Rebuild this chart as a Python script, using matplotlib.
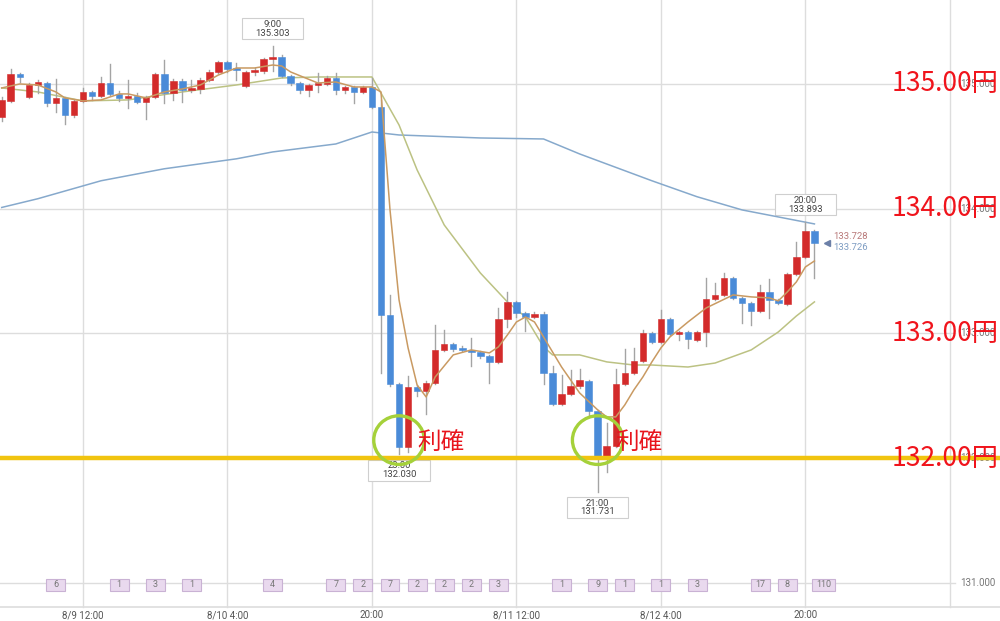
import matplotlib
matplotlib.use('Agg')
import matplotlib.pyplot as plt
from matplotlib.patches import Rectangle, Ellipse
from matplotlib.transforms import blended_transform_factory

plt.rcParams['font.family'] = ['Roboto', 'DejaVu Sans']

# hourly candles, 8/9 3:00 .. 8/12 21:00
opens = [134.735, 134.864, 135.080, 134.896, 134.992, 135.008, 134.848, 134.888, 134.751, 134.864,
         134.936, 134.904, 135.008, 134.920, 134.888, 134.904, 134.856, 134.896, 135.080, 134.928,
         135.024, 134.952, 134.960, 135.032, 135.096, 135.176, 135.120, 134.984, 135.096, 135.104,
         135.200, 135.216, 135.064, 135.008, 134.952, 134.992, 135.000, 135.048, 134.952, 134.976,
         134.936, 134.976, 134.816, 133.148, 132.595, 132.091, 132.571, 132.539, 132.603, 132.868,
         132.916, 132.876, 132.868, 132.852, 132.820, 132.772, 133.116, 133.253, 133.164, 133.132,
         133.156, 132.683, 132.435, 132.515, 132.579, 132.619, 132.379, 132.010, 132.099, 132.595,
         132.683, 132.780, 133.004, 132.932, 133.116, 132.996, 133.012, 132.948, 133.012, 133.277,
         133.309, 133.445, 133.285, 133.245, 133.180, 133.333, 133.269, 133.236, 133.477, 133.613,
         133.822]
highs = [134.896, 135.120, 135.088, 135.008, 135.032, 135.016, 135.040, 134.896, 134.872, 134.968,
         134.944, 135.056, 135.160, 134.944, 135.032, 134.928, 134.904, 135.088, 135.192, 135.040,
         135.040, 135.032, 135.048, 135.112, 135.184, 135.184, 135.168, 135.104, 135.128, 135.208,
         135.303, 135.232, 135.072, 135.016, 135.000, 135.088, 135.064, 135.088, 134.984, 134.984,
         134.984, 135.048, 134.872, 133.309, 132.603, 132.659, 132.587, 132.619, 133.068, 133.028,
         132.924, 132.900, 132.964, 132.860, 132.828, 133.204, 133.333, 133.261, 133.172, 133.172,
         133.172, 132.739, 132.667, 132.707, 132.715, 132.627, 132.387, 132.283, 132.715, 132.876,
         132.884, 133.028, 133.012, 133.188, 133.124, 133.020, 133.020, 133.020, 133.445, 133.405,
         133.485, 133.453, 133.293, 133.253, 133.389, 133.437, 133.277, 133.485, 133.733, 133.893,
         133.830]
lows = [134.703, 134.856, 135.016, 134.888, 134.928, 134.824, 134.776, 134.679, 134.735, 134.856,
        134.872, 134.896, 134.912, 134.864, 134.808, 134.848, 134.719, 134.888, 134.848, 134.872,
        134.856, 134.936, 134.928, 135.024, 135.088, 135.096, 135.032, 134.976, 135.072, 135.088,
        135.104, 135.056, 134.992, 134.928, 134.904, 134.936, 134.992, 134.920, 134.928, 134.848,
        134.928, 134.808, 132.683, 132.579, 132.030, 132.050, 132.499, 132.355, 132.595, 132.860,
        132.860, 132.860, 132.739, 132.804, 132.603, 132.764, 133.052, 133.132, 133.020, 133.124,
        132.595, 132.427, 132.427, 132.507, 132.563, 132.347, 131.731, 131.890, 132.091, 132.587,
        132.675, 132.772, 132.924, 132.924, 132.988, 132.948, 132.884, 132.940, 132.900, 133.269,
        133.301, 133.277, 133.084, 133.068, 133.172, 133.124, 133.236, 133.228, 133.469, 133.605,
        133.445]
closes = [134.872, 135.080, 135.056, 134.992, 135.016, 134.848, 134.888, 134.751, 134.864, 134.936,
          134.904, 135.008, 134.920, 134.888, 134.904, 134.856, 134.896, 135.080, 134.928, 135.024,
          134.952, 134.960, 135.032, 135.096, 135.176, 135.120, 135.112, 135.096, 135.112, 135.200,
          135.216, 135.064, 135.008, 134.952, 134.992, 135.000, 135.048, 134.952, 134.976, 134.936,
          134.976, 134.816, 133.148, 132.595, 132.091, 132.571, 132.539, 132.603, 132.868, 132.916,
          132.876, 132.868, 132.852, 132.820, 132.772, 133.116, 133.253, 133.164, 133.132, 133.156,
          132.683, 132.435, 132.515, 132.579, 132.627, 132.379, 132.010, 132.099, 132.595, 132.683,
          132.780, 133.004, 132.932, 133.116, 132.996, 133.012, 132.956, 133.012, 133.277, 133.309,
          133.445, 133.285, 133.245, 133.180, 133.333, 133.269, 133.245, 133.477, 133.613, 133.822,
          133.728]

short_ma_idx = [0, 2, 4, 6, 7, 9, 11, 13, 14, 16, 18, 20, 22, 24, 26, 28, 30, 31, 32, 35, 37, 39,
                41, 42, 43, 44, 45, 46, 47, 48, 50, 52, 54, 55, 56, 57, 58, 59, 60, 62, 64, 66,
                67, 68, 69, 70, 71, 72, 73, 74, 76, 78, 81, 83, 85, 86, 87, 88, 89, 90]
short_ma = [134.968, 135.000, 134.992, 134.936, 134.888, 134.864, 134.872, 134.920, 134.920,
            134.888, 134.936, 134.960, 134.992, 135.072, 135.128, 135.128, 135.152, 135.144,
            135.096, 135.008, 135.016, 134.976, 134.976, 134.936, 133.990, 133.269, 132.884,
            132.587, 132.491, 132.651, 132.828, 132.868, 132.844, 132.892, 132.988, 133.092,
            133.132, 133.092, 132.972, 132.731, 132.523, 132.387, 132.331, 132.331, 132.427,
            132.547, 132.651, 132.772, 132.884, 132.972, 133.092, 133.204, 133.309, 133.293,
            133.285, 133.261, 133.333, 133.413, 133.533, 133.581]

mid_ma_idx = [0, 4, 9, 14, 20, 26, 31, 35, 41, 44, 46, 49, 53, 56, 58, 60, 61, 64, 67, 70, 72,
              76, 79, 83, 86, 88, 90]
mid_ma = [134.968, 134.936, 134.864, 134.872, 134.936, 134.992, 135.048, 135.056, 135.056,
          134.671, 134.311, 133.870, 133.485, 133.253, 133.132, 132.892, 132.828, 132.828,
          132.772, 132.747, 132.747, 132.731, 132.763, 132.868, 133.012, 133.140, 133.253]

long_ma_idx = [0, 4, 11, 18, 26, 30, 37, 41, 44, 53, 60, 64, 72, 77, 82, 90]
long_ma = [134.010, 134.080, 134.224, 134.320, 134.400, 134.455, 134.519, 134.615, 134.591,
           134.567, 134.559, 134.439, 134.224, 134.096, 133.990, 133.878]

tick_pos = [9, 25, 41, 57, 73, 89]
tick_labels = ['8/9 12:00', '8/10 4:00', '20:00', '8/11 12:00', '8/12 4:00', '20:00']
grid_prices = [135, 134, 133, 132, 131]
yen_labels = ['135.00円', '134.00円', '133.00円', '132.00円']

event_pos = [6, 13, 17, 21, 30, 37, 40, 43, 46, 49, 52, 55, 62, 66, 69, 73, 77, 84, 87, 91]
event_counts = [6, 1, 3, 1, 4, 7, 2, 7, 2, 2, 2, 3, 1, 9, 1, 1, 3, 17, 8, 110]

# (candle index, time label, use high?)
info_marks = [(30, '9:00', True), (89, '20:00', True), (44, '23:00', False), (66, '21:00', False)]
take_profit_idx = [44, 66]
target_price = 132.0

UP = '#d32b2b'
DOWN = '#4a8bd8'
GRID = '#dddddd'
AXIS_X = 105.0
BOTTOM = 130.808

fig = plt.figure(figsize=(10, 6.21), dpi=100)
ax = fig.add_axes([0, 0, 1, 1])
ax.set_xlim(-0.19, 110.55)
ax.set_ylim(130.695, 135.673)
ax.axis('off')

# grid
for p in grid_prices:
    ax.plot([-1, AXIS_X + 0.6], [p, p], color=GRID, lw=1, zorder=0)
for t in tick_pos:
    ax.plot([t, t], [BOTTOM, 136], color=GRID, lw=1, zorder=0)
ax.plot([AXIS_X, AXIS_X], [BOTTOM, 136], color=GRID, lw=1, zorder=0)
ax.plot([-1, 112], [BOTTOM, BOTTOM], color=GRID, lw=1.2, zorder=0)

tr = blended_transform_factory(ax.transData, ax.transAxes)
for t, lab in zip(tick_pos, tick_labels):
    ax.text(t, 0.009, lab, transform=tr, ha='center', va='center', fontsize=7, color='#555555')
for p in grid_prices:
    ax.text(AXIS_X + 1.1, p, '%.3f' % p, ha='left', va='center', fontsize=7, color='#777777', zorder=1)

# info boxes (drawn below candles)
for i, tlabel, top in info_marks:
    price = highs[i] if top else lows[i]
    yc = price + 0.138 if top else price - 0.125
    ax.add_patch(Rectangle((i - 3.4, yc - 0.084), 6.8, 0.168, fc='white', ec='#cfcfcf', lw=0.8, zorder=1))
    ax.text(i, yc, '%s\n%.3f' % (tlabel, price), ha='center', va='center', fontsize=6.8,
            linespacing=0.95, color='#444444', zorder=1.5)

# moving averages
ax.plot(long_ma_idx, long_ma, color='#86a9cc', lw=1.1, zorder=2)
ax.plot(mid_ma_idx, mid_ma, color='#bcc283', lw=1.1, zorder=2)
ax.plot(short_ma_idx, short_ma, color='#c99a62', lw=1.1, zorder=4)

# candles
for i in range(len(opens)):
    o, h, l, c = opens[i], highs[i], lows[i], closes[i]
    col = UP if c >= o else DOWN
    ax.plot([i, i], [l, h], color='#a4a4a4', lw=1, zorder=3)
    body = max(abs(c - o), 0.012)
    ax.add_patch(Rectangle((i - 0.36, min(o, c)), 0.72, body, fc=col, ec=col, lw=0.4, zorder=3.5))

# last price marker
last = len(closes) - 1
ax.plot([last + 1.4], [closes[-1]], marker='<', ms=4.5, color='#6c80a8', zorder=5)
ax.text(last + 2.1, closes[-1] + 0.048, '%.3f' % closes[-1], fontsize=6.8, color='#b87878',
        ha='left', va='center')
ax.text(last + 2.1, closes[-1] - 0.036, '%.3f' % (closes[-1] - 0.002), fontsize=6.8, color='#7d9cc2',
        ha='left', va='center')

# event boxes
EV_Y = 130.984
for pos, n in zip(event_pos, event_counts):
    w = 2.1 if n < 100 else 2.5
    ax.add_patch(Rectangle((pos - w / 2, EV_Y - 0.045), w, 0.09, fc='#e9d9ee', ec='#c9b2d4', lw=0.8, zorder=2))
    ax.text(pos, EV_Y, str(n), ha='center', va='center', fontsize=6.5, color='#777777', zorder=2.5)

# annotations
ax.plot([-1, 112], [target_price, target_price], color='#f1c40f', lw=3.2, zorder=6,
        solid_capstyle='butt')
for i in take_profit_idx:
    ax.add_patch(Ellipse((i, target_price + 0.145), 5.6, 0.39, fill=False, ec='#a5d13a', lw=2.4, zorder=7))
    ax.text(i + 2.0, target_price + 0.128, '利確', family=['Noto Sans CJK JP', 'DejaVu Sans'],
            fontsize=17, color='#e8141c', ha='left', va='center', zorder=8)

for p, lab in zip(grid_prices, yen_labels):
    ax.text(98.5, p, lab, family=['Noto Sans CJK JP', 'DejaVu Sans'], fontsize=19,
            color='#f0141c', ha='left', va='center', zorder=8)

fig.savefig('out.png', dpi=100, facecolor='white')
